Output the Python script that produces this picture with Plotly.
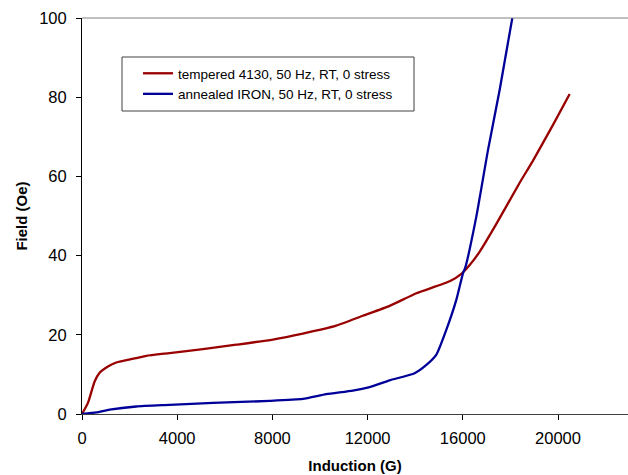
import plotly.graph_objects as go

# tempered 4130, 50 Hz, RT, 0 stress
red_x = [0, 250, 530, 740, 1090, 1440, 2280, 2700, 3680, 5080, 6480, 8020, 9280,
         10680, 11800, 12925, 14050, 15450, 15940, 16290, 16710, 17410, 18390,
         18950, 19790, 20490]
red_y = [0, 2.8, 8.2, 10.4, 12.0, 13.0, 14.1, 14.7, 15.4, 16.4, 17.5, 18.8, 20.3,
         22.3, 24.8, 27.3, 30.5, 33.5, 35.4, 37.6, 41.0, 48.0, 58.4,
         64.0, 73.0, 80.8]

# annealed IRON, 50 Hz, RT, 0 stress
blue_x = [0, 600, 1160, 2280, 3680, 5500, 7880, 9280, 10260, 11380, 12085, 12925,
          13975, 14470, 14890, 15310, 15730, 16010, 16100, 16570, 17060, 17550, 18080]
blue_y = [0, 0.4, 1.1, 1.9, 2.3, 2.8, 3.3, 3.8, 5.0, 5.9, 6.8, 8.5,
          10.3, 12.4, 15.0, 21.3, 28.9, 35.6, 36.9, 49.9, 66.7, 81.9, 100]

x_ticks = [0, 4000, 8000, 12000, 16000, 20000]
x_tick_labels = ["0", "4000", "8000", "12000", "16000", "20000"]
y_ticks = [0, 20, 40, 60, 80, 100]

RED = "#990000"
BLUE = "#000099"

W, H = 628, 475
ML, MR, MT, MB = 82, 0, 18, 61
PW, PH = W - ML - MR, H - MT - MB

fig = go.Figure()
fig.add_trace(go.Scatter(x=red_x, y=red_y, mode="lines", name="tempered 4130, 50 Hz, RT, 0 stress",
                         line=dict(color=RED, width=2.3, shape="spline", smoothing=0.5)))
fig.add_trace(go.Scatter(x=blue_x, y=blue_y, mode="lines", name="annealed IRON, 50 Hz, RT, 0 stress",
                         line=dict(color=BLUE, width=2.3, shape="spline", smoothing=0.5)))

# legend box in pixel coordinates of the page
box_l, box_r, box_t, box_b = 122, 414, 57, 111

fig.update_layout(
    width=W, height=H,
    margin=dict(l=ML, r=MR, t=MT, b=MB, autoexpand=False),
    paper_bgcolor="white", plot_bgcolor="white",
    font=dict(family="Liberation Sans, Arial, sans-serif", color="black"),
    showlegend=True,
    legend=dict(x=(138 - ML) / PW, y=(H - MB - box_t - 1) / PH, xanchor="left", yanchor="top",
                borderwidth=0, bgcolor="rgba(0,0,0,0)",
                font=dict(size=13.5), tracegroupgap=0, itemwidth=30),
    xaxis=dict(range=[0, 22941], tickvals=x_ticks, ticktext=x_tick_labels,
               ticks="outside", ticklen=5, automargin=False, ticklabelstandoff=4,
               tickcolor="black", showline=True, linecolor="#404040", linewidth=1,
               showgrid=False, zeroline=False, tickfont=dict(size=16.5),
               title=dict(text="<b>Induction (G)</b>", font=dict(size=15), standoff=14)),
    yaxis=dict(range=[0, 100], tickvals=y_ticks, ticks="outside", ticklen=5, automargin=False,
               ticklabelstandoff=6,
               tickcolor="black", showline=True, linecolor="black", linewidth=1,
               showgrid=False, zeroline=False, tickfont=dict(size=16.5),
               title=dict(text="<b>Field (Oe)</b>", font=dict(size=15), standoff=7)),
    shapes=[
        dict(type="line", xref="paper", yref="paper", x0=0, x1=1, y0=1, y1=1,
             line=dict(color="#808080", width=1)),
        dict(type="rect", xref="paper", yref="paper",
             x0=(box_l - ML) / PW, x1=(box_r - ML) / PW,
             y0=(H - MB - box_b) / PH, y1=(H - MB - box_t) / PH,
             line=dict(color="#404040", width=1), fillcolor="white", layer="below"),
    ],
)

fig.write_html("out.html", config={"displayModeBar": False},
               post_script="document.body.style.margin='0';")
